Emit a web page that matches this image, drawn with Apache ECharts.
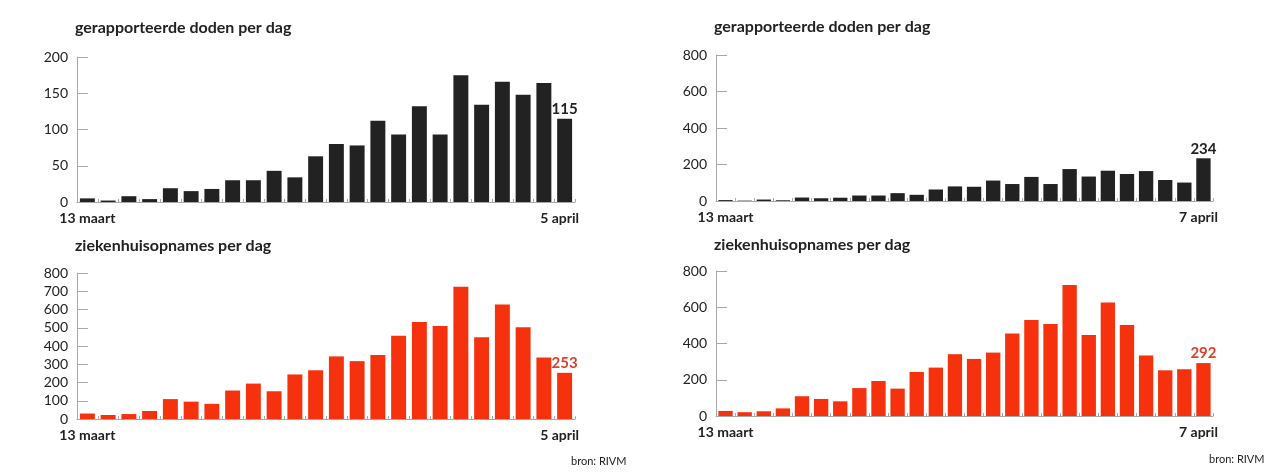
<!DOCTYPE html>
<html>
<head>
<meta charset="utf-8">
<script src="https://cdn.jsdelivr.net/npm/echarts@6/dist/echarts.min.js"></script>
<style>
html,body{margin:0;padding:0;background:#fff;}
#c{width:1280px;height:476px;}
</style>
</head>
<body>
<div id="c"></div>
<script>
const daysLeft = ["13 maart","14 maart","15 maart","16 maart","17 maart","18 maart","19 maart","20 maart","21 maart","22 maart","23 maart","24 maart","25 maart","26 maart","27 maart","28 maart","29 maart","30 maart","31 maart","1 april","2 april","3 april","4 april","5 april"];
const daysRight = ["13 maart","14 maart","15 maart","16 maart","17 maart","18 maart","19 maart","20 maart","21 maart","22 maart","23 maart","24 maart","25 maart","26 maart","27 maart","28 maart","29 maart","30 maart","31 maart","1 april","2 april","3 april","4 april","5 april","6 april","7 april"];

const deathsLeft = [5,2,8,4,19,15,18,30,30,43,34,63,80,78,112,93,132,93,175,134,166,148,164,115];
const deathsRight = [5,2,8,4,19,15,18,30,30,43,34,63,80,78,112,93,132,93,175,134,166,148,164,115,101,234];
const admissionsLeft = [30,22,27,44,109,95,83,156,194,152,244,267,343,317,351,456,531,509,724,448,627,503,337,253];
const admissionsRight = [28,21,26,42,109,94,81,154,193,151,243,267,341,315,350,455,530,508,723,447,626,502,334,252,258,292];

const deathTicksLeft = [0,50,100,150,200];
const deathTicksRight = [0,200,400,600,800];
const admTicksLeft = [0,100,200,300,400,500,600,700,800];
const admTicksRight = [0,200,400,600,800];

const titleDeaths = "gerapporteerde doden per dag";
const titleAdm = "ziekenhuisopnames per dag";
const sourceText = "bron: RIVM";

const FONT = "Lato";
const BLACK = "#222222";
const RED = "#f5310e";
const RED_LABEL = "#df3f2b";
const AXIS = "#a8a8a8";

function xAxisCfg(gridIndex, cats) {
  const last = cats.length - 1;
  return {
    type: 'category', gridIndex, data: cats,
    axisLine: {lineStyle: {color: AXIS, width: 1}},
    axisTick: {show: true, inside: true, length: 3, interval: 0, lineStyle: {color: AXIS}},
    axisLabel: {
      interval: (i) => i === 0 || i === last,
      margin: 9,
      formatter: (v, i) => i === 0 ? '{a|' + v + '}' : '{b|' + v + '}',
      rich: {
        a: {fontFamily: FONT, fontWeight: 'bold', fontSize: 14, color: BLACK},
        b: {fontFamily: FONT, fontWeight: 'bold', fontSize: 14, color: BLACK, padding: [0, 10, 0, 0]}
      }
    },
    splitLine: {show: false}
  };
}
function yAxisCfg(gridIndex, ticks) {
  return {
    type: 'value', gridIndex,
    min: ticks[0], max: ticks[ticks.length - 1], interval: ticks[1] - ticks[0],
    axisLine: {show: true, lineStyle: {color: AXIS, width: 1}},
    axisTick: {show: true, inside: true, length: 11, lineStyle: {color: AXIS}},
    axisLabel: {fontFamily: FONT, fontSize: 14, color: BLACK, margin: 9},
    splitLine: {show: false}
  };
}
function barSeries(idx, data, color, labelColor, gap) {
  const last = data.length - 1;
  return {
    type: 'bar', xAxisIndex: idx, yAxisIndex: idx, data,
    barCategoryGap: gap,
    itemStyle: {color},
    silent: true,
    label: {
      show: true, position: 'top', distance: 2,
      fontFamily: FONT, fontWeight: 'bold', fontSize: 15, color: labelColor,
      formatter: (p) => p.dataIndex === last ? String(p.value) : ''
    }
  };
}

const titleStyle = {fontFamily: FONT, fontWeight: 'bold', fontSize: 16, color: BLACK};
const srcStyle = {fontFamily: FONT, fontSize: 11, color: BLACK, fontWeight: 'normal'};
const option = {
  animation: false,
  backgroundColor: '#ffffff',
  title: [
    {text: titleDeaths, left: 70, top: 15, textStyle: titleStyle},
    {text: titleAdm, left: 70, top: 233, textStyle: titleStyle},
    {text: titleDeaths, left: 709, top: 14, textStyle: titleStyle},
    {text: titleAdm, left: 709, top: 232, textStyle: titleStyle},
    {text: sourceText, left: 566, top: 451, textStyle: srcStyle},
    {text: sourceText, left: 1204, top: 449, textStyle: srcStyle}
  ],
  grid: [
    {left: 77, top: 57, width: 498, height: 145},
    {left: 77, top: 273, width: 498, height: 146},
    {left: 716, top: 55, width: 497, height: 146},
    {left: 716, top: 271, width: 497, height: 145}
  ],
  xAxis: [
    xAxisCfg(0, daysLeft), xAxisCfg(1, daysLeft), xAxisCfg(2, daysRight), xAxisCfg(3, daysRight)
  ],
  yAxis: [
    yAxisCfg(0, deathTicksLeft), yAxisCfg(1, admTicksLeft), yAxisCfg(2, deathTicksRight), yAxisCfg(3, admTicksRight)
  ],
  series: [
    barSeries(0, deathsLeft, BLACK, BLACK, '28%'),
    barSeries(1, admissionsLeft, RED, RED_LABEL, '28%'),
    barSeries(2, deathsRight, BLACK, BLACK, '25%'),
    barSeries(3, admissionsRight, RED, RED_LABEL, '25%')
  ]
};
const chart = echarts.init(document.getElementById('c'), null, {renderer: 'canvas'});
chart.setOption(option);
</script>
</body>
</html>
